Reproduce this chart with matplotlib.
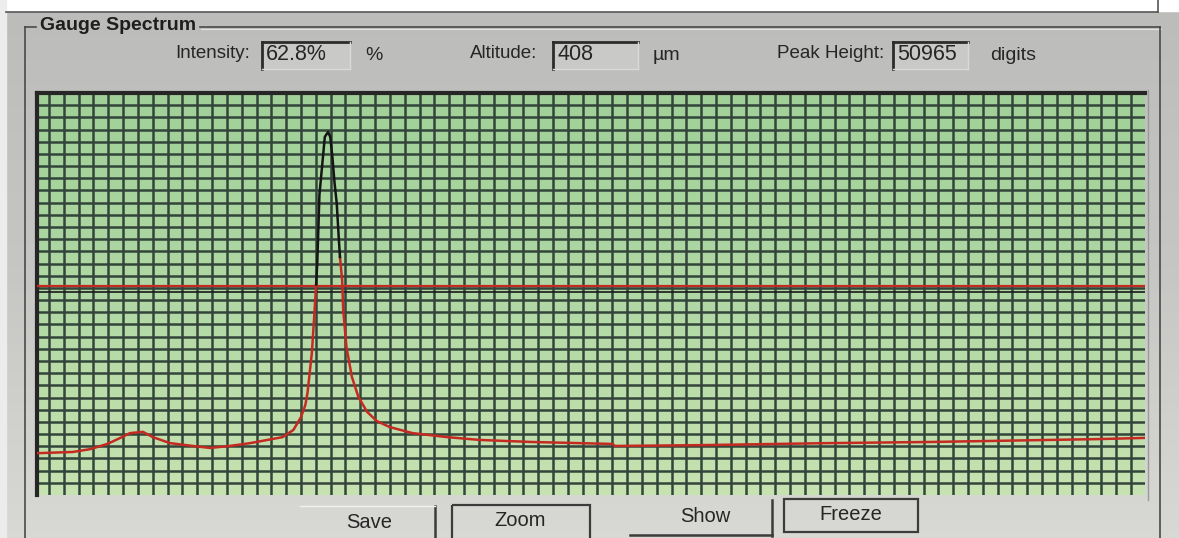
import numpy as np
import matplotlib.pyplot as plt
from matplotlib.patches import Rectangle
from matplotlib.colors import LinearSegmentedColormap

plt.rcParams['font.family'] = ['Liberation Sans', 'DejaVu Sans']

# Spectrum: channel (0-1024) vs. signal (% of full scale)
channel = [0, 33, 49, 65, 77, 86, 98, 107, 123, 144, 160, 178, 197, 213, 227,
           237, 244, 248, 250, 254, 256, 258, 259, 260, 261, 264, 266, 269,
           271, 273, 275, 277, 279, 280, 282, 283, 286, 291, 297, 305, 314,
           326, 347, 379, 409, 456, 532, 534, 613, 730, 828, 979, 1024]
signal = [10.4, 10.7, 11.4, 12.7, 14.2, 15.4, 15.7, 14.4, 12.9, 12.2, 11.7,
          12.2, 12.9, 13.7, 14.4, 16.2, 19.4, 22.4, 25.4, 35.3, 43.5, 52.4,
          57.7, 65.9, 74.6, 83.3, 89.1, 90.3, 89.1, 84.1, 77.6, 72.6, 63.4,
          59.2, 53.5, 46.0, 36.8, 29.4, 24.4, 20.7, 18.4, 16.9, 15.4, 14.4,
          13.7, 13.2, 12.7, 12.2, 12.4, 12.9, 13.2, 13.9, 14.2]
black_from, black_to = 21, 33   # part of the peak drawn in black
threshold = 52.0
reference = 50.6

field_labels = ['Intensity:', 'Altitude:', 'Peak Height:']
field_values = ['62.8%', '408', '50965']
field_units = ['%', 'µm', 'digits']
buttons = ['Save', 'Zoom', 'Show', 'Freeze']

W, H = 1179, 538
fig = plt.figure(figsize=(W / 100, H / 100), dpi=100)

# window chrome, in pixel coordinates
bg = fig.add_axes([0, 0, 1, 1])
bg.set_xlim(0, W)
bg.set_ylim(H, 0)
bg.axis('off')
panel = LinearSegmentedColormap.from_list('panel', ['#bcbcba', '#c6c6c4', '#d8d8d4'])
bg.imshow(np.linspace(0, 1, 64).reshape(-1, 1), cmap=panel, aspect='auto',
          extent=[0, W, H, 0], zorder=0)
bg.add_patch(Rectangle((0, 0), W, 11, color='white', zorder=1))
bg.add_patch(Rectangle((0, 0), 6, H, color='#ececec', zorder=1))
bg.plot([6, 1158], [12, 12], color='#555555', lw=1.2, zorder=2)
bg.plot([1158, 1158], [0, 12], color='#555555', lw=1.2, zorder=2)

# group box frame
frame = '#4a4a4a'
bg.plot([25, 25], [27, H], color=frame, lw=1.2)
bg.plot([25, 36], [27, 27], color=frame, lw=1.2)
bg.plot([200, 1160], [27, 27], color=frame, lw=1.2)
bg.plot([201, 1161], [29, 29], color='#e2e2e2', lw=0.8)
bg.plot([1160, 1160], [27, H], color=frame, lw=1.2)
bg.plot([1148, 1148], [90, 500], color='#9a9a9a', lw=1)
bg.text(40, 26, 'Gauge Spectrum', fontsize=14, fontweight='bold',
        color='#1e1e1e', va='center', ha='left')

# read-out fields
label_x = [175, 470, 777]
box_x = [262, 553, 893]
box_w = [88, 85, 75]
unit_x = [365, 653, 990]
for lx, bx, bw, ux, lab, val, unit in zip(label_x, box_x, box_w, unit_x,
                                           field_labels, field_values, field_units):
    bg.text(lx, 53, lab, fontsize=13.5, color='#262626', va='center', ha='left')
    bg.add_patch(Rectangle((bx, 42), bw, 27, facecolor='#c9c9c7',
                           edgecolor='none', zorder=2))
    bg.plot([bx, bx + bw], [42, 42], color='#2c2c2c', lw=2, zorder=3)
    bg.plot([bx, bx], [42, 69], color='#2c2c2c', lw=2, zorder=3)
    bg.plot([bx + bw, bx + bw], [42, 69], color='#dadada', lw=1, zorder=3)
    bg.plot([bx, bx + bw], [69, 69], color='#dadada', lw=1, zorder=3)
    bg.text(bx + 4, 54, val, fontsize=15.5, color='#262626', va='center',
            ha='left', zorder=4)
    bg.text(ux, 56, unit, fontsize=14, color='#262626', va='center', ha='left')

# buttons along the bottom
btn_text_xy = [(369, 522), (520, 521), (705, 517), (851, 514)]
for (tx, ty), name in zip(btn_text_xy, buttons):
    bg.text(tx, ty, name, fontsize=14.5, color='#262626', va='center', ha='center')
bg.plot([435, 435], [506, H], color='#3c3c3c', lw=1.8)
bg.plot([300, 435], [506, 506], color='#f0f0f0', lw=1)
bg.add_patch(Rectangle((452, 505), 138, 40, facecolor='none',
                       edgecolor='#3c3c3c', lw=1.6))
bg.plot([772, 772], [500, 536], color='#3c3c3c', lw=1.8)
bg.plot([630, 772], [535, 535], color='#3c3c3c', lw=1.8)
bg.add_patch(Rectangle((784, 499), 134, 33, facecolor='none',
                       edgecolor='#3c3c3c', lw=1.6))

# spectrum plot
ax = fig.add_axes([37 / W, 1 - 495 / H, 1108 / W, 402 / H])
ax.set_xlim(0, 1024)
ax.set_ylim(0, 100)
green = LinearSegmentedColormap.from_list('scr', ['#c6e2b0', '#b0d8a4', '#a0d098'])
ax.imshow(np.linspace(0, 1, 64).reshape(-1, 1), cmap=green, aspect='auto',
          extent=[0, 1024, 0, 100], origin='lower', zorder=0)

grid_col = '#33453a'
xg = np.linspace(11.1, 1011.1, 74)
yg = np.arange(1, 34) * 100 / 33
ax.vlines(xg, 0, 100, color=grid_col, lw=1.8, zorder=1)
ax.hlines(yg, 0, 1024, color=grid_col, lw=1.8, zorder=1)

ax.axhline(threshold, color='#c42a22', lw=1.6, zorder=3)
ax.axhline(reference, color='#1a1a1a', lw=1.2, zorder=3)

ax.plot(channel[:black_from + 1], signal[:black_from + 1], color='#c42a22', lw=1.8, zorder=4)
ax.plot(channel[black_to:], signal[black_to:], color='#c42a22', lw=1.8, zorder=4)
ax.plot(channel[black_from:black_to + 1], signal[black_from:black_to + 1],
        color='#151515', lw=1.8, zorder=4)

ax.set_xticks([])
ax.set_yticks([])
for side in ['right', 'bottom']:
    ax.spines[side].set_visible(False)
for side in ['top', 'left']:
    ax.spines[side].set_color('#262626')
    ax.spines[side].set_linewidth(3)

fig.savefig('out.png', dpi=100)
